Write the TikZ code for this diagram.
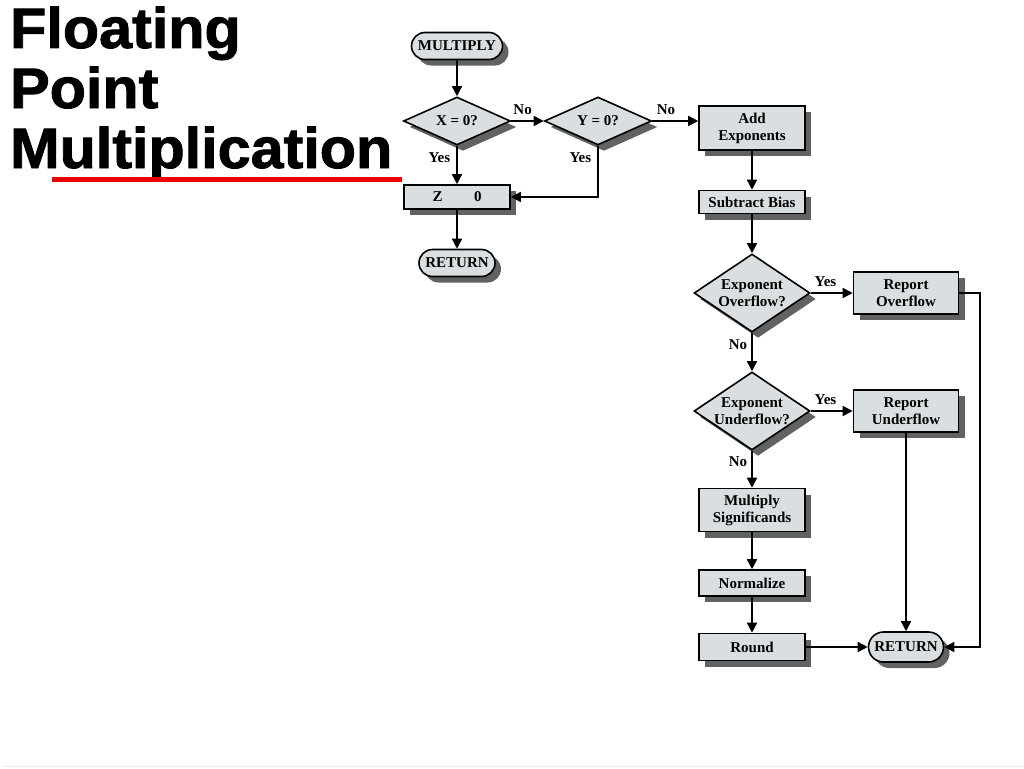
\documentclass[tikz,border=0pt]{standalone}
\usepackage{fontspec}
\setmainfont{Liberation Serif}
\newfontfamily\titlefont[FakeBold=1.6,FakeStretch=1.04]{Liberation Sans}
\usetikzlibrary{shapes.geometric,shapes.misc,shadows,arrows.meta}
\definecolor{boxfill}{HTML}{D9DFE1}
\definecolor{shadowgray}{HTML}{626262}
\definecolor{ulred}{HTML}{EE0000}
\tikzset{
  shad/.style={drop shadow={shadow xshift=6pt,shadow yshift=-6pt,fill=shadowgray,opacity=1}},
  lbl/.style={font=\bfseries\fontsize{15}{17}\selectfont,inner sep=2pt},
  procbox/.style={rectangle,draw=black,line width=1.6pt,fill=boxfill,shad,
     font=\bfseries\fontsize{15}{17}\selectfont,align=center,inner sep=2pt,minimum width=106pt},
  termbox/.style={rounded rectangle,draw=black,line width=1.6pt,fill=boxfill,shad,
     font=\bfseries\fontsize{15}{17}\selectfont,inner sep=2pt},
  decbox/.style={diamond,draw=black,line width=1.6pt,fill=boxfill,shad,inner sep=0pt},
  decsmall/.style={decbox,minimum width=107pt,minimum height=48pt},
  decbig/.style={decbox,minimum width=116pt,minimum height=78pt},
  dtext/.style={font=\bfseries\fontsize{15}{17}\selectfont,align=center,inner sep=0pt},
  arr/.style={draw=black,line width=1.6pt,-{Triangle[length=10pt,width=10pt]}},
  titletext/.style={anchor=base west,inner sep=0pt,font=\titlefont\bfseries\fontsize{57}{60}\selectfont}
}
\begin{document}
\begin{tikzpicture}[x=1pt,y=-1pt]
\useasboundingbox (0,0) rectangle (1024,768);
\fill[white] (0,0) rectangle (1024,768);
% title
\node[titletext] (t1) at (10,48) {Floating};
\node[titletext] (t2) at (10,108) {Point};
\node[titletext] (t3) at (10,168) {Multiplication};
\draw[ulred,line width=5pt] (52,179) -- (402,179);
\draw[black!8,line width=1pt] (4,766) -- (1024,766);
% left column
\node[termbox,minimum width=95pt,minimum height=27pt] (mult) at (457,46) {MULTIPLY};
\node[decsmall,label={[dtext]center:X = 0?}] (x) at (457,121) {};
\node[decsmall,label={[dtext]center:Y = 0?}] (y) at (598,121) {};
\node[procbox,minimum height=24pt] (z) at (457,197) {Z\hspace{2.1em}0};
\node[termbox,minimum width=80pt,minimum height=27pt] (ret1) at (457,263) {RETURN};
% right column
\node[procbox,minimum height=44pt] (add) at (752,128) {Add\\Exponents};
\node[procbox,minimum height=23pt] (sub) at (752,202) {Subtract Bias};
\node[decbig,label={[dtext]center:Exponent\\Overflow?}] (ovf) at (752,293) {};
\node[procbox,minimum width=105pt,minimum height=42pt] (rovf) at (906,293) {Report\\Overflow};
\node[decbig,label={[dtext]center:Exponent\\Underflow?}] (unf) at (752,411) {};
\node[procbox,minimum width=105pt,minimum height=42pt] (runf) at (906,411) {Report\\Underflow};
\node[procbox,minimum height=43pt] (msig) at (752,510) {Multiply\\Significands};
\node[procbox,minimum height=26pt] (norm) at (752,583) {Normalize};
\node[procbox,minimum height=27pt] (rnd) at (752,647) {Round};
\node[termbox,minimum width=79pt,minimum height=30pt] (ret2) at (906,647) {RETURN};
\coordinate (rc) at (980,293);
% connectors
\draw[arr] (mult) -- (x);
\draw[arr] (x) -- node[lbl,above,pos=0.35,yshift=4pt] {No} (y);
\draw[arr] (y.east) -- node[lbl,above,pos=0.3,yshift=4pt] {No} (y.east -| add.west);
\draw[arr] (x) -- node[lbl,left,pos=0.3,xshift=-4pt] {Yes} (z);
\draw[arr] (y.south) |- node[lbl,left,pos=0.12,xshift=-4pt] {Yes} (z.east);
\draw[arr] (z) -- (ret1);
\draw[arr] (add) -- (sub);
\draw[arr] (sub) -- (ovf);
\draw[arr] (ovf) -- node[lbl,above,pos=0.35,yshift=4pt] {Yes} (rovf);
\draw[arr] (ovf) -- node[lbl,left,pos=0.3,xshift=-2pt] {No} (unf);
\draw[arr] (unf) -- node[lbl,above,pos=0.35,yshift=4pt] {Yes} (runf);
\draw[arr] (unf) -- node[lbl,left,pos=0.3,xshift=-2pt] {No} (msig);
\draw[arr] (msig) -- (norm);
\draw[arr] (norm) -- (rnd);
\draw[arr] (rnd) -- (ret2);
\draw[arr] (runf) -- (ret2);
\draw[arr] (rovf.east) -- (rc) |- (ret2.east);
\end{tikzpicture}
\end{document}
